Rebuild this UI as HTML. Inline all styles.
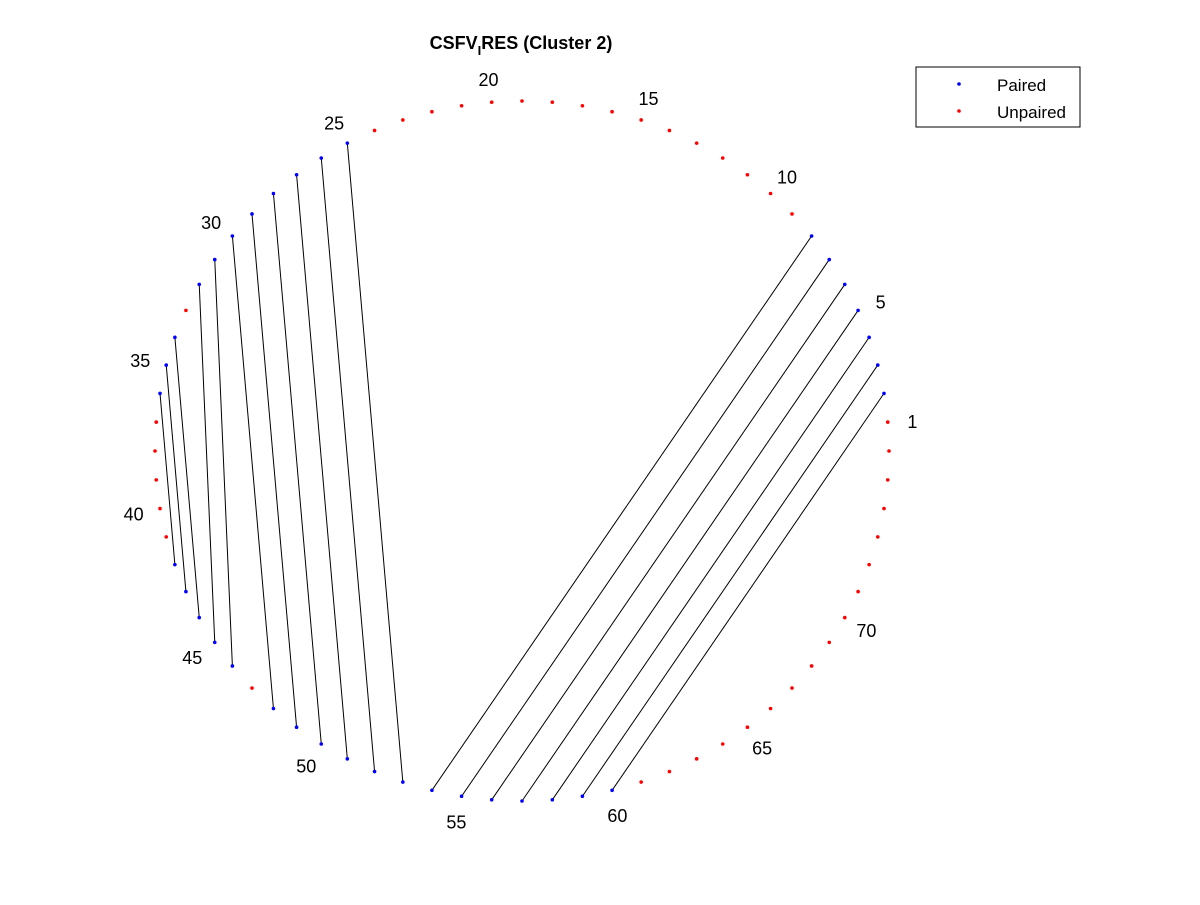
<!DOCTYPE html>
<html><head><meta charset="utf-8"><style>
body{margin:0;background:#fff;}
svg text{font-family:"Liberation Sans",Arial,sans-serif;}
</style></head><body>
<svg id="chart" width="1200" height="900" viewBox="0 0 1200 900">
<rect width="1200" height="900" fill="#fff"/>
<text x="521" y="49" text-anchor="middle" font-size="18" font-weight="bold">CSFV<tspan font-size="13" dy="6">I</tspan><tspan dy="-6">RES (Cluster 2)</tspan></text>
<g id="lines"></g>
<g id="pts"></g>
<g id="labels"></g>
<g>
<rect x="916" y="67" width="164" height="60" fill="#fff" stroke="#000" stroke-width="1"/>
<circle cx="959" cy="84" r="1.8" fill="#0000ff"/>
<text x="997" y="91" font-size="17">Paired</text>
<circle cx="959" cy="111" r="1.8" fill="#ff0000"/>
<text x="997" y="118" font-size="17">Unpaired</text>
</g>
</svg>
<script>
const N = 76;
const pairI = [2,3,4,5,6,7,8,25,26,27,28,29,30,31,32,34,35,36];
const pairJ = [60,59,58,57,56,55,54,53,52,51,50,49,48,46,45,44,43,42];
const labelNums = [1,5,10,15,20,25,30,35,40,45,50,55,60,65,70];
const cx = 522, cy = 451, rx = 367, ry = 350;
const NS = 'http://www.w3.org/2000/svg';
function px(i, f){ return cx + f*rx*Math.cos(i*2*Math.PI/N); }
function py(i, f){ return cy - f*ry*Math.sin(i*2*Math.PI/N); }
const paired = new Set(pairI.concat(pairJ));
const lg = document.getElementById('lines');
for (let k = 0; k < pairI.length; k++) {
  const l = document.createElementNS(NS, 'line');
  l.setAttribute('x1', px(pairI[k],1)); l.setAttribute('y1', py(pairI[k],1));
  l.setAttribute('x2', px(pairJ[k],1)); l.setAttribute('y2', py(pairJ[k],1));
  l.setAttribute('stroke', '#000'); l.setAttribute('stroke-width', '1');
  
  
  lg.appendChild(l);
}
const pg = document.getElementById('pts');
for (let i = 1; i <= N; i++) {
  const c = document.createElementNS(NS, 'circle');
  c.setAttribute('cx', px(i,1)); c.setAttribute('cy', py(i,1)); c.setAttribute('r', '1.8');
  c.setAttribute('fill', paired.has(i) ? '#0000ff' : '#ff0000');
  
  
  pg.appendChild(c);
}
const tg = document.getElementById('labels');
labelNums.forEach(n => {
  const t = document.createElementNS(NS, 'text');
  t.setAttribute('x', px(n,1.07) - 1); t.setAttribute('y', py(n,1.07) + 8);
  t.setAttribute('text-anchor', 'middle'); t.setAttribute('font-size', '18');
  t.textContent = n;
  
  
  tg.appendChild(t);
});
</script>
</body></html>
